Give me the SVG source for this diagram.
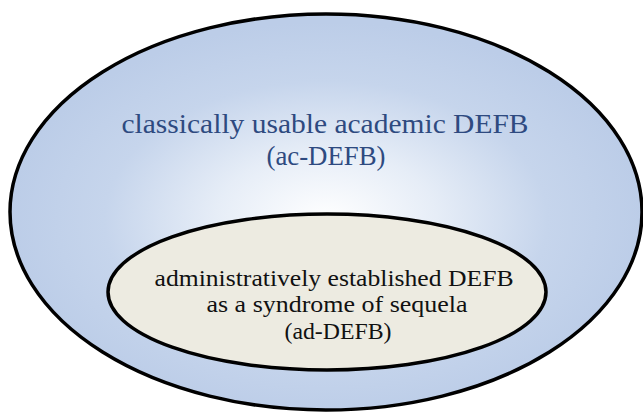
<svg xmlns="http://www.w3.org/2000/svg" width="643" height="413" viewBox="0 0 643 413">
  <style>
    .outline { stroke: #000; stroke-width: 3.5; }
    .t { font-family: "Liberation Serif", "DejaVu Serif", serif; text-anchor: middle; }
    .blue { fill: #2E4A80; font-size: 27px; }
    .dark { fill: #111; font-size: 24px; }
  </style>
  <defs>
    <radialGradient id="bg" cx="0.5" cy="0.52" r="0.5" fx="0.5" fy="0.52">
      <stop offset="0" stop-color="#FFFFFF"/>
      <stop offset="0.35" stop-color="#E6EDF7"/>
      <stop offset="0.7" stop-color="#C6D5EC"/>
      <stop offset="1" stop-color="#BCCDE8"/>
    </radialGradient>
  </defs>
  <rect width="643" height="413" fill="#FFFFFF"/>
  <g id="outer">
    <ellipse cx="326" cy="212" rx="316" ry="198" fill="url(#bg)" class="outline"/>
    <text class="t blue" x="325" y="133" textLength="407" lengthAdjust="spacingAndGlyphs">classically usable academic DEFB</text>
    <text class="t blue" x="326" y="165" textLength="119" lengthAdjust="spacingAndGlyphs">(ac-DEFB)</text>
  </g>
  <g id="inner">
    <ellipse cx="327" cy="292" rx="219" ry="78" fill="#EDEBE1" class="outline"/>
    <text class="t dark" x="334" y="286" textLength="359" lengthAdjust="spacingAndGlyphs">administratively established DEFB</text>
    <text class="t dark" x="337" y="312" textLength="261" lengthAdjust="spacingAndGlyphs">as a syndrome of sequela</text>
    <text class="t dark" x="338" y="339" textLength="107" lengthAdjust="spacingAndGlyphs">(ad-DEFB)</text>
  </g>
</svg>
